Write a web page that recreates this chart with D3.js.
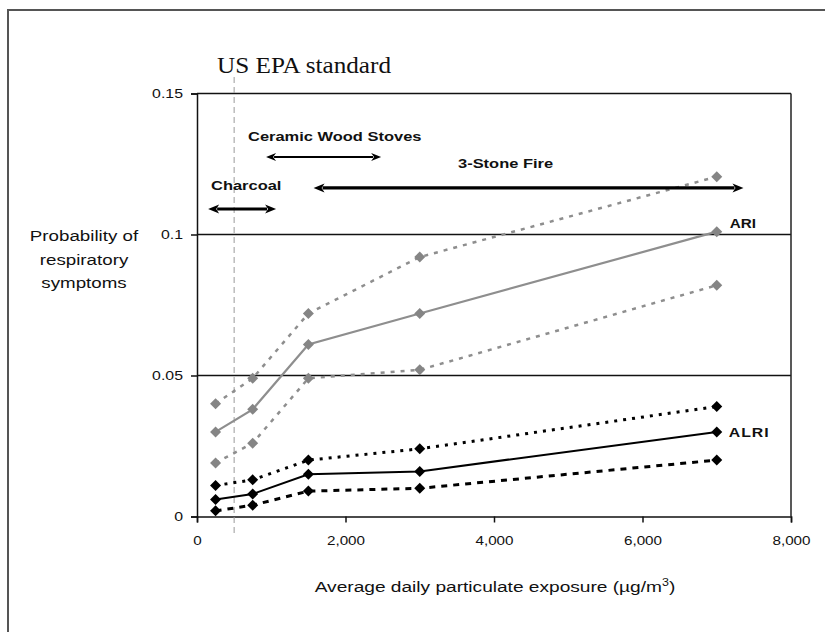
<!DOCTYPE html>
<html><head><meta charset="utf-8">
<script src="https://cdn.jsdelivr.net/npm/d3@7"></script>
<style>body{margin:0;background:#fff}svg{display:block}</style>
</head><body>
<script>
const exposure = [250, 750, 1500, 3000, 7000];
const ariUpper = [0.040, 0.049, 0.072, 0.092, 0.1205];
const ariMid   = [0.030, 0.038, 0.061, 0.072, 0.101];
const ariLower = [0.019, 0.026, 0.049, 0.052, 0.082];
const alriUpper = [0.011, 0.013, 0.020, 0.024, 0.039];
const alriMid   = [0.006, 0.008, 0.015, 0.016, 0.030];
const alriLower = [0.002, 0.004, 0.009, 0.010, 0.020];
const xTicks = [0, 2000, 4000, 6000, 8000];
const yTicks = [0, 0.05, 0.1, 0.15];
const yTickLabels = ["0", "0.05", "0.1", "0.15"];
const epaStandard = 500;
const rangeNames = ["Charcoal", "Ceramic Wood Stoves", "3-Stone Fire"];
const rangeFrom = [150, 930, 1570];
const rangeTo = [1065, 2480, 7360];
const rangeLevel = [0.109, 0.1275, 0.1165];

const W = 825, H = 632;
const SX = 1.22;           // the original chart is stretched horizontally
const SANS = "Liberation Sans, Arial, Helvetica, sans-serif";
const svg = d3.select("body").append("svg").attr("width", W).attr("height", H);
svg.append("rect").attr("x", 8).attr("y", 10).attr("width", 840).attr("height", 650)
  .attr("fill", "none").attr("stroke", "#555").attr("stroke-width", 2);

function addText(px, py, str, o = {}) {
  const t = svg.append("text")
    .attr("transform", `translate(${px},${py}) scale(${o.sx || SX},1)`)
    .attr("font-family", o.family || SANS).attr("font-size", o.size || 13)
    .attr("font-weight", o.weight || "normal").attr("fill", "#111")
    .attr("text-anchor", o.anchor || "start");
  if (o.ls) t.attr("letter-spacing", o.ls);
  if (str !== null) t.text(str);
  return t;
}

const x = d3.scaleLinear().domain([0, 8000]).range([197, 791]);
const y = d3.scaleLinear().domain([0, 0.15]).range([516.5, 93.5]);

// gridlines at 0.05 and 0.1, plus top frame
svg.append("g").selectAll("line").data([0.05, 0.1, 0.15]).join("line")
  .attr("x1", x(0)).attr("x2", x(8000)).attr("y1", d => y(d)).attr("y2", d => y(d))
  .attr("stroke", "#111").attr("stroke-width", 1.5);
svg.append("line").attr("x1", x(8000)).attr("x2", x(8000)).attr("y1", y(0.15)).attr("y2", y(0))
  .attr("stroke", "#222").attr("stroke-width", 1.5);

// axes
const yAxis = svg.append("g").attr("transform", `translate(${x(0)},0)`)
  .call(d3.axisLeft(y).tickValues(yTicks).tickSize(6).tickPadding(8)
    .tickFormat((d, i) => yTickLabels[i]));
const xAxis = svg.append("g").attr("transform", `translate(0,${y(0)})`)
  .call(d3.axisBottom(x).tickValues(xTicks).tickSize(6).tickPadding(14)
    .tickFormat(d3.format(",")));
[yAxis, xAxis].forEach(a => {
  a.select(".domain").attr("stroke", "#111").attr("stroke-width", 1.5);
  a.selectAll(".tick line").attr("stroke", "#111").attr("stroke-width", 1.5);
  a.selectAll("text").attr("font-family", SANS).attr("fill", "#111");
});
yAxis.selectAll("text").attr("font-size", 13).attr("x", -14 / SX)
  .attr("transform", `scale(${SX},1)`);
xAxis.selectAll("text").attr("font-size", 12.5).attr("transform", `scale(${SX},1)`);

// EPA dashed line
svg.append("line").attr("x1", x(epaStandard)).attr("x2", x(epaStandard))
  .attr("y1", 77).attr("y2", 537)
  .attr("stroke", "#999").attr("stroke-width", 1).attr("stroke-dasharray", "6,4");
addText(217, 73, "US EPA standard",
  {family: "Liberation Serif, Times New Roman, serif", size: 24, sx: 1.05});

// series
const line = d3.line().x((d, i) => x(exposure[i])).y(d => y(d));
const series = [
  {v: ariUpper, c: "#8e8e8e", w: 2.5, dash: "4,6", m: "#858585"},
  {v: ariLower, c: "#8e8e8e", w: 2.5, dash: "4,6", m: "#858585"},
  {v: ariMid, c: "#8e8e8e", w: 2.2, dash: null, m: "#858585"},
  {v: alriUpper, c: "#000", w: 3, dash: "3,6", m: "#000"},
  {v: alriLower, c: "#000", w: 3, dash: "6,6", m: "#000"},
  {v: alriMid, c: "#000", w: 2, dash: null, m: "#000"}
];
const dia = "M0,-5.5L5.5,0L0,5.5L-5.5,0Z";
series.forEach(s => {
  svg.append("path").attr("d", line(s.v)).attr("fill", "none")
    .attr("stroke", s.c).attr("stroke-width", s.w)
    .attr("stroke-dasharray", s.dash);
  svg.append("g").selectAll("path").data(s.v).join("path")
    .attr("d", dia)
    .attr("transform", (d, i) => `translate(${x(exposure[i])},${y(d)})`)
    .attr("fill", s.m);
});

// series labels
addText(x(7000) + 13, y(ariMid[4]) - 4, "ARI", {weight: "bold", size: 12.5});
addText(x(7000) + 12, y(alriMid[4]) + 5, "ALRI", {weight: "bold", size: 13, ls: 0.8});

// range arrows
const arrowW = [3, 2, 3.2];
const headL = [11, 10, 11];
const headH = [4.5, 4, 4.5];
rangeNames.forEach((n, i) => {
  const x1 = x(rangeFrom[i]), x2 = x(rangeTo[i]), yy = y(rangeLevel[i]);
  const L = headL[i], h = headH[i];
  svg.append("line").attr("x1", x1 + L - 2).attr("x2", x2 - L + 2)
    .attr("y1", yy).attr("y2", yy).attr("stroke", "#000").attr("stroke-width", arrowW[i]);
  svg.append("path")
    .attr("d", `M${x1},${yy}L${x1 + L},${yy - h}L${x1 + L - 3},${yy}L${x1 + L},${yy + h}Z` +
               `M${x2},${yy}L${x2 - L},${yy - h}L${x2 - L + 3},${yy}L${x2 - L},${yy + h}Z`)
    .attr("fill", "#000");
});
const labX = [211, 248, 458];
const labY = [190, 141, 168];
rangeNames.forEach((n, i) => addText(labX[i], labY[i], n, {weight: "bold", size: 13.5}));

// axis titles
["Probability of", "respiratory", "symptoms"].forEach((t, i) =>
  addText(84, 241 + i * 23.5, t, {size: 15, anchor: "middle", sx: 1.25}));
const xt = addText(495, 592, null, {size: 15.3, anchor: "middle", sx: 1.25});
xt.append("tspan").text("Average daily particulate exposure (\u00b5g/m");
xt.append("tspan").attr("font-size", 10).attr("dy", -6).text("3");
xt.append("tspan").attr("dy", 6).text(")");
</script>
</body></html>
